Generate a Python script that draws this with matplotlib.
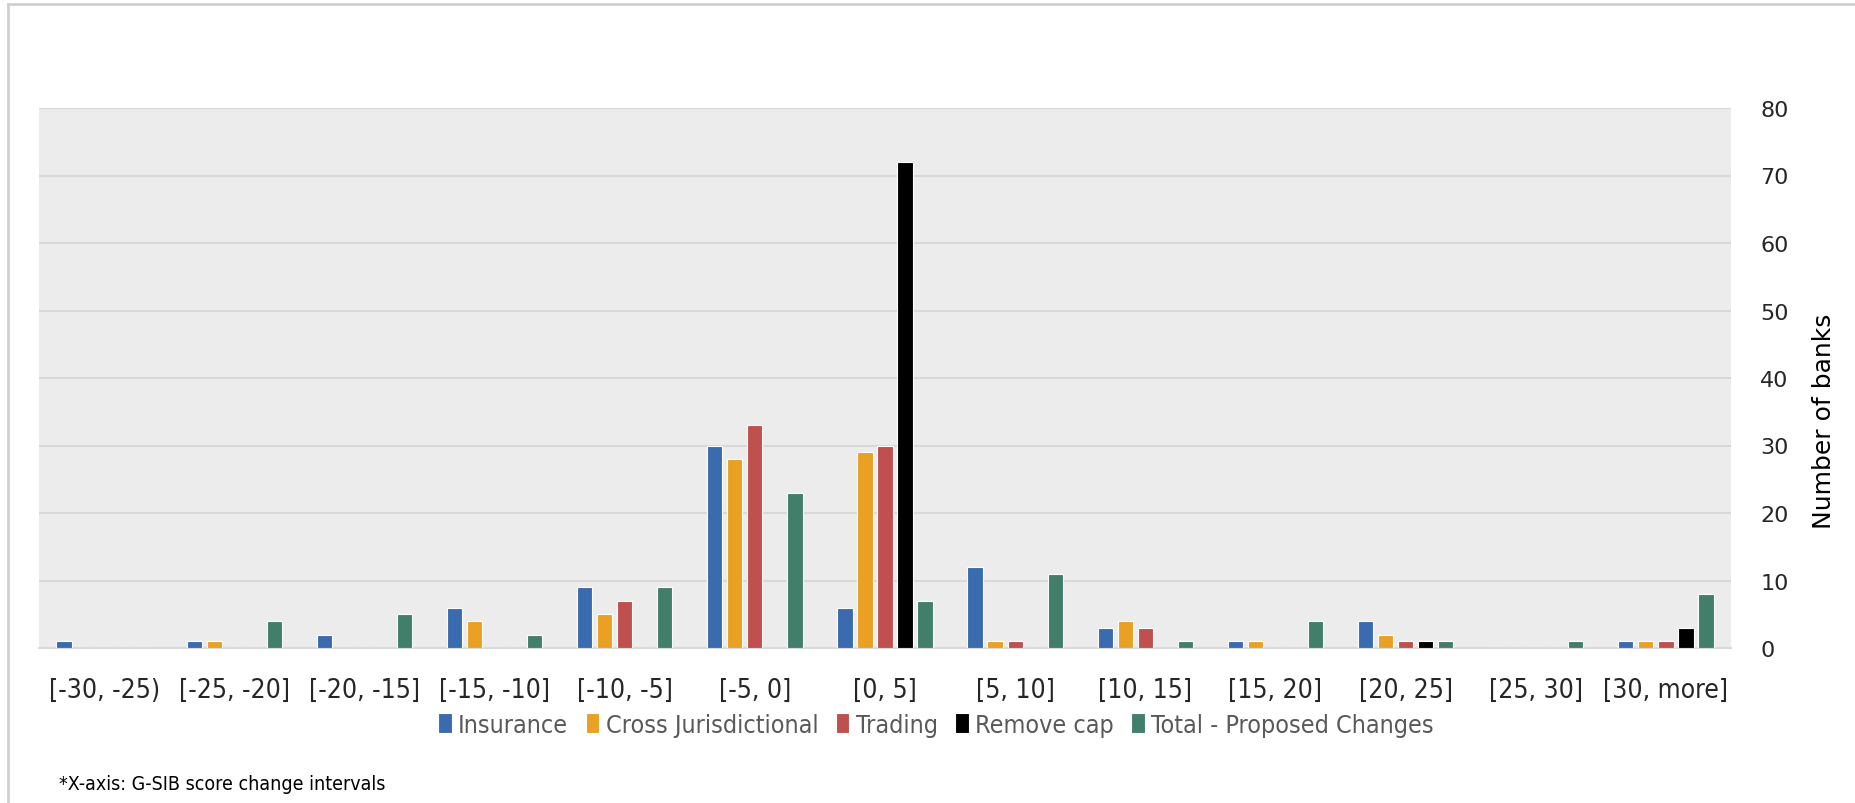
import matplotlib.pyplot as plt
import numpy as np
from matplotlib.lines import Line2D

categories = ['[-30, -25)', '[-25, -20]', '[-20, -15]', '[-15, -10]', '[-10, -5]',
              '[-5, 0]', '[0, 5]', '[5, 10]', '[10, 15]', '[15, 20]', '[20, 25]',
              '[25, 30]', '[30, more]']
insurance = [1, 1, 2, 6, 9, 30, 6, 12, 3, 1, 4, 0, 1]
cross_jur = [0, 1, 0, 4, 5, 28, 29, 1, 4, 1, 2, 0, 1]
trading = [0, 0, 0, 0, 7, 33, 30, 1, 3, 0, 1, 0, 1]
remove_cap = [0, 0, 0, 0, 0, 0, 72, 0, 0, 0, 1, 0, 3]
total = [0, 4, 5, 2, 9, 23, 7, 11, 1, 4, 1, 1, 8]

series = [('Insurance', insurance, '#3b6baf'),
          ('Cross Jurisdictional', cross_jur, '#e9a023'),
          ('Trading', trading, '#c0504d'),
          ('Remove cap', remove_cap, '#000000'),
          ('Total - Proposed Changes', total, '#417f6b')]

plt.rcParams['font.family'] = ['DejaVu Sans']
plt.rcParams['font.stretch'] = 'condensed'

W, H = 1856, 804
fig = plt.figure(figsize=(W / 100, H / 100), dpi=100)
ax = fig.add_axes([39 / W, 1 - 649 / H, (1731 - 39) / W, (649 - 109) / H])
ax.set_facecolor('#ececec')

x = np.arange(len(categories))
pitch = 0.154
width = 0.117
for i, (name, vals, col) in enumerate(series):
    ax.bar(x + (i - 2) * pitch, vals, width, color=col, edgecolor='white',
           linewidth=0.8, label=name, zorder=3)

ax.set_xlim(-0.5, len(categories) - 0.5)
ax.set_ylim(0, 80)
ax.set_yticks(range(0, 81, 10))
ax.yaxis.tick_right()
ax.grid(axis='y', color='#d8d8d8', linewidth=1.5, zorder=1)
ax.set_axisbelow(True)
for s in ['top', 'left', 'right']:
    ax.spines[s].set_visible(False)
ax.spines['bottom'].set_color('#d9d9d9')
ax.spines['bottom'].set_linewidth(1.5)

ax.set_xticks(x)
ax.set_xticklabels(categories, fontsize=19, color='#262626')
ax.tick_params(axis='x', length=0, pad=21)
ax.tick_params(axis='y', length=0, pad=21)
for lab in ax.get_yticklabels():
    lab.set_fontsize(16)
    lab.set_color('#262626')
    lab.set_fontstretch('normal')

fig.text(1824 / W, 1 - 421 / H, 'Number of banks', rotation=90, fontsize=18,
         fontstretch='normal', ha='center', va='center', color='black')

fig.legend(loc='center', bbox_to_anchor=(936 / W, 1 - 726 / H), ncol=5,
           frameon=False, fontsize=18, labelcolor='#595959',
           handlelength=0.55, handleheight=0.85, handletextpad=0.25, columnspacing=0.7)

fig.text(59 / W, 1 - 785 / H, '*X-axis: G-SIB score change intervals',
         fontsize=14, va='center', ha='left', color='black')

# outer chart border
fig.add_artist(Line2D([8 / W, 1], [1 - 5 / H, 1 - 5 / H], color='#d0d0d0', linewidth=2))
fig.add_artist(Line2D([8 / W, 8 / W], [0, 1 - 5 / H], color='#d0d0d0', linewidth=2))

fig.savefig('out.png', dpi=100)
